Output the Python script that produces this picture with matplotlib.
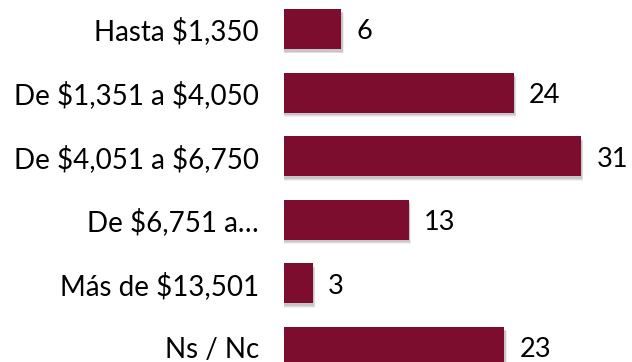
import matplotlib
matplotlib.use("Agg")
import matplotlib.pyplot as plt

categories = ["Hasta $1,350", "De $1,351 a $4,050", "De $4,051 a $6,750",
              "De $6,751 a…", "Más de $13,501", "Ns / Nc"]
values = [6, 24, 31, 13, 3, 23]

bar_color = "#7D0D2F"
plt.rcParams["font.family"] = ["Lato", "DejaVu Sans"]
plt.rcParams["text.parse_math"] = False

fig = plt.figure(figsize=(6.32, 3.62), dpi=100)
ax = fig.add_axes([284 / 632, 0, 1 - 284 / 632, 1])

pos = list(range(len(categories)))
h = 0.63
step = 63.6  # pixels between category centres

# soft drop shadow under each bar
for k, a in enumerate([0.10, 0.08, 0.06]):
    off = 0.02 + 0.015 * k
    ax.barh([p + off + 0.02 for p in pos], [v + 0.15 + 0.05 * k for v in values],
            height=h, left=0, color="#000000", alpha=a, zorder=1, linewidth=0)

ax.barh(pos, values, height=h, color=bar_color, zorder=3, linewidth=0)

for p, v in zip(pos, values):
    ax.text(v + 1.6, p + 0.165, str(v), va="baseline", ha="left",
            fontsize=19.5, color="black")

ax.set_xlim(0, (632 - 284) / 9.58)
ax.set_ylim((362 - 29) / step, -29 / step)
ax.set_yticks(pos)
ax.set_yticklabels(categories, fontsize=20)
ax.tick_params(axis="y", length=0, pad=18)
ax.set_xticks([])
for s in ax.spines.values():
    s.set_visible(False)

fig.savefig("out.png", dpi=100)
